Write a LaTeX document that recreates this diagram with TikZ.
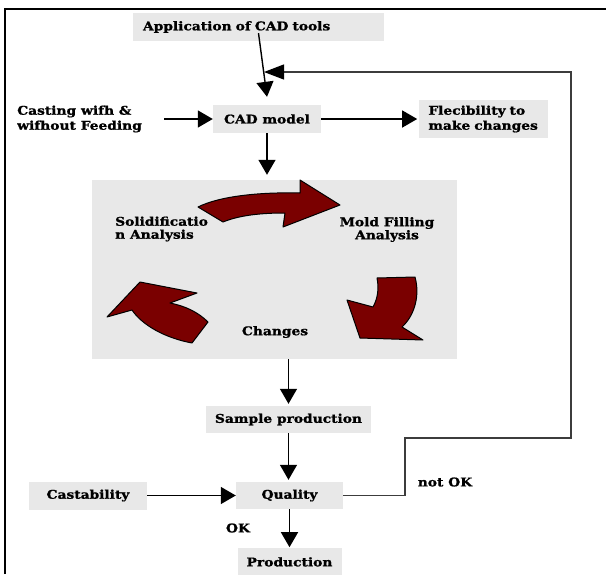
\documentclass[tikz,border=0pt]{standalone}
\usepackage{fontspec}
\setmainfont[FakeStretch=1.15,BoldFeatures={FakeStretch=1.15,FakeBold=1.2}]{DejaVu Serif}
\usetikzlibrary{arrows.meta,positioning}
\definecolor{boxgray}{RGB}{232,232,232}
\definecolor{cycred}{RGB}{122,0,0}
\definecolor{loopgray}{RGB}{60,60,60}

\begin{document}
\begin{tikzpicture}[x=1pt,y=-1pt,
      box/.style={fill=boxgray,align=center,font=\fontsize{12}{15}\selectfont\bfseries,minimum height=28pt,inner sep=3pt},
      lbl/.style={align=left,font=\fontsize{12}{15}\selectfont\bfseries,inner sep=0pt},
      flow/.style={-{Triangle[width=17pt,length=15pt]},line width=1.4pt},
      turn/.style={fill=cycred,draw=black,line width=1pt,line join=round}]
    \useasboundingbox (0,0) rectangle (606,574);
    \draw[line width=1.5pt] (5,574) -- (5,9) -- (606,9);
    \node[box,text width=231pt,align=left,minimum width=251pt] (app) at (258.5,27) {Application of CAD tools};
    \node[box,minimum width=108pt] (cad) at (267,119) {CAD model};
    \node[box,minimum width=129pt,minimum height=38pt,text width=111pt,align=left,right=98pt of cad] (flex) {Flecibility to\\make changes};
    \node[lbl,anchor=west] (cast) at (17,119) {Casting wifh \&\\wifhout Feeding};
    \node[fill=boxgray,minimum width=365pt,minimum height=179pt] (cycle) at (274.5,269.5) {};
    \node[lbl,anchor=west,font=\fontsize{12}{13}\selectfont\bfseries] (solid) at (115,229) {Solidificatio\\n Analysis};
    \node[lbl,align=center,font=\fontsize{12}{13}\selectfont\bfseries] (mold) at (387,229.5) {Mold Filling\\Analysis};
    \node[lbl] (chg) at (275,332) {Changes};
    \node[box,minimum width=165pt,minimum height=27pt] (sample) at (288.5,419.5) {Sample production};
    \node[box,minimum width=107pt,minimum height=27pt] (qual) at (289.5,495.5) {Quality};
    \node[box,minimum width=118pt] (castab) at (88,495.5) {Castability};
    \node[box,minimum width=104pt,minimum height=27pt,below=39pt of qual] (prod) {Production};
    \node[lbl] (ok) at (238,528) {OK};
    \node[lbl] (notok) at (445,482) {not OK};
    \coordinate (fbin) at (264,72);
    \draw[turn] (198,207) .. controls (220,196) and (260,192) .. (300,193) -- (300,180) -- (340,205) -- (283,227) -- (285,213) .. controls (262,213) and (240,215) .. (223,222) -- cycle;
    \draw[turn] (377,278) -- (415,277) .. controls (420,295) and (415,315) .. (402,327) -- (423,340) -- (360,338) -- (347,300) -- (373,307) .. controls (378,298) and (379,288) .. (377,278) -- cycle;
    \draw[turn] (140,282) -- (197,293) -- (170,303) .. controls (185,306) and (198,312) .. (208,322) -- (192,343) .. controls (165,338) and (142,325) .. (132,310) -- (107,317) -- cycle;
    \draw[flow] ([yshift=8pt]app.south) -- ([yshift=8pt]cad.north);
    \draw[line width=1.2pt,loopgray,-{Triangle[width=15pt,length=20pt,black]}] (qual.east) -| (405,438) -- (571,438) |- (fbin);
    \draw[flow] ([xshift=22pt]cast.east) -- (cad.west);
    \draw[flow,shorten >=2pt] (cad.east) -- (flex.west);
    \draw[flow,shorten >=5pt] (cad.south) -- (cad.south |- cycle.north);
    \draw[flow,shorten >=2pt] (sample.north |- cycle.south) -- (sample.north);
    \draw[flow,shorten >=2pt] (sample.south) -- (sample.south |- qual.north);
    \draw[flow] (castab.east) -- (qual.west);
    \draw[flow,shorten >=1pt] (qual.south) -- (qual.south |- prod.north);
  \end{tikzpicture}
\end{document}
